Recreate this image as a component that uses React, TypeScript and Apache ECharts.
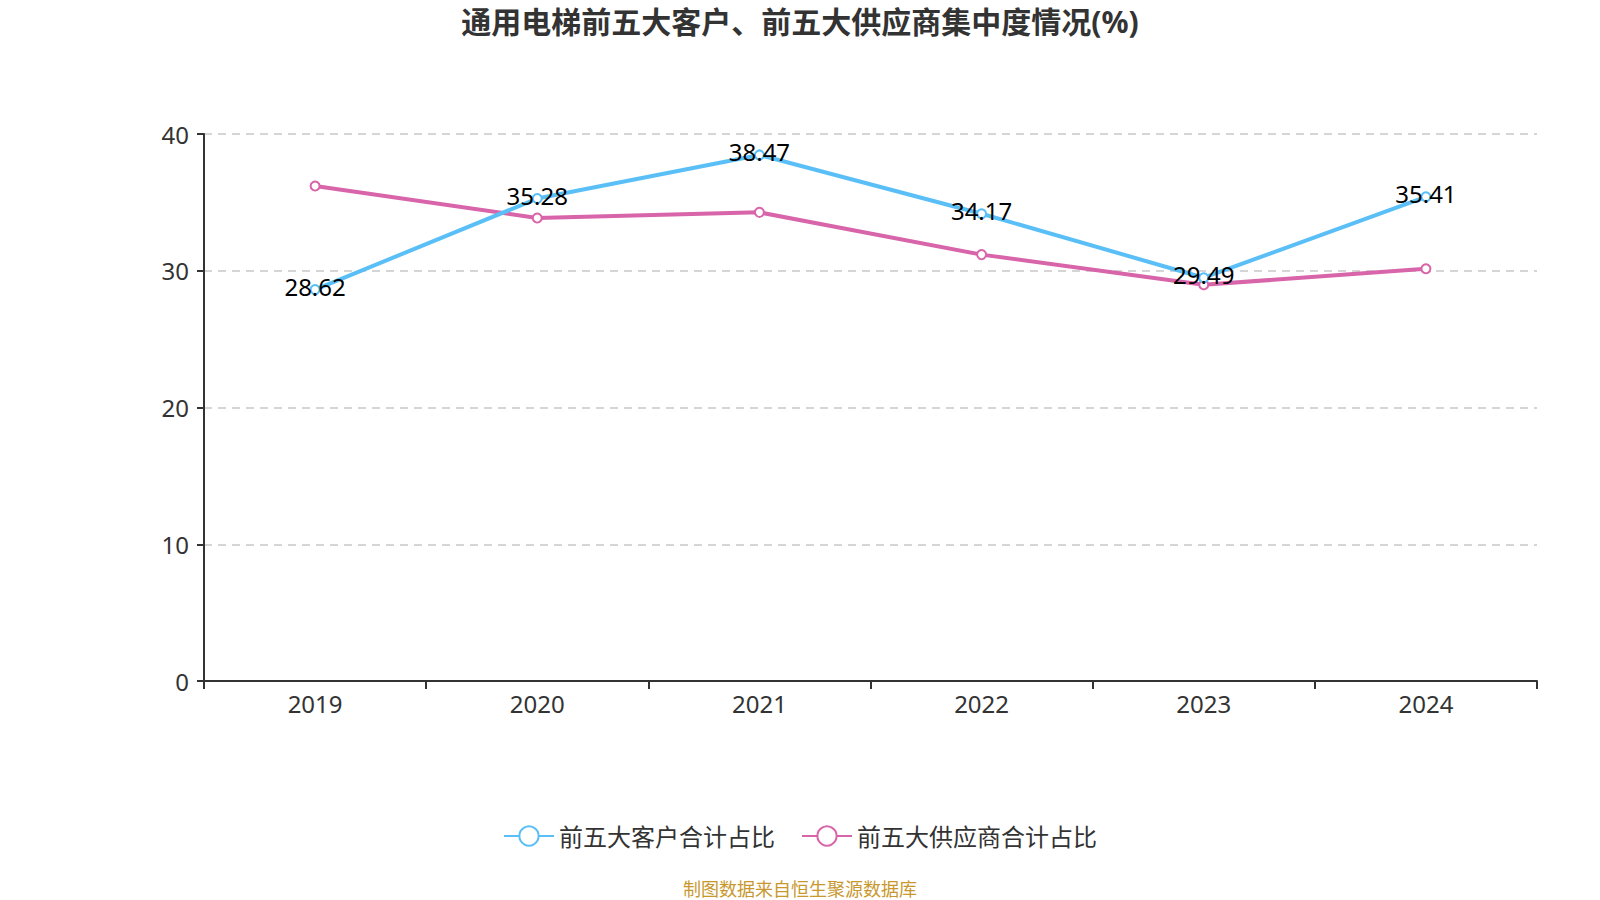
import React, { useEffect, useRef } from "react";
import * as echarts from "echarts";

const years = ["2019", "2020", "2021", "2022", "2023", "2024"];
const customerShare = [28.62, 35.28, 38.47, 34.17, 29.49, 35.41];
const supplierShare = [36.2, 33.86, 34.27, 31.18, 28.97, 30.15];
const seriesNames = ["前五大客户合计占比", "前五大供应商合计占比"];
const yTicks = { min: 0, max: 40, interval: 10 };

const FONT = "'Noto Sans', 'Noto Sans CJK SC', sans-serif";

export default function App() {
  const ref = useRef<HTMLDivElement>(null);
  useEffect(() => {
    document.body.style.margin = "0";
    if (!ref.current) return;
    const chart = echarts.init(ref.current, undefined, { renderer: "svg" });
    chart.setOption({
      animation: false,
      textStyle: { fontFamily: FONT },
      title: {
        text: "通用电梯前五大客户、前五大供应商集中度情况(%)",
        left: "center",
        top: 1,
        textStyle: { fontSize: 30, fontWeight: "bold", color: "#333", fontFamily: FONT },
      },
      grid: { left: 204, right: 63, top: 134, bottom: 219 },
      legend: {
        data: seriesNames,
        left: "center",
        top: 819,
        itemWidth: 50,
        itemHeight: 24,
        itemGap: 26,
        textStyle: { fontSize: 24, color: "#333", fontFamily: FONT },
      },
      graphic: [
        {
          type: "text",
          left: "center",
          top: 880,
          style: {
            text: "制图数据来自恒生聚源数据库",
            fontSize: 18,
            fill: "#c8982f",
            fontFamily: FONT,
          },
        },
      ],
      xAxis: {
        type: "category",
        data: years,
        axisLine: { lineStyle: { color: "#333", width: 2 } },
        axisTick: { show: true, lineStyle: { color: "#333", width: 2 }, length: 8 },
        axisLabel: { fontSize: 24, color: "#333", margin: 10, fontFamily: FONT },
      },
      yAxis: {
        type: "value",
        min: yTicks.min,
        max: yTicks.max,
        interval: yTicks.interval,
        axisLine: { show: true, lineStyle: { color: "#333", width: 2 } },
        axisTick: { show: true, lineStyle: { color: "#333", width: 2 }, length: 7 },
        axisLabel: { fontSize: 24, color: "#333", margin: 15, fontFamily: FONT },
        splitLine: { lineStyle: { type: [8, 6], color: "#c8c8c8", width: 1.5 } },
      },
      series: [
        {
          name: seriesNames[0],
          type: "line",
          data: customerShare,
          symbol: "emptyCircle",
          symbolSize: 9,
          itemStyle: { color: "#5bbff7", borderWidth: 2 },
          lineStyle: { color: "#5bbff7", width: 4 },
          label: {
            show: true,
            position: "inside",
            offset: [0, -3],
            fontSize: 24,
            color: "#000",
            fontFamily: FONT,
          },
          z: 3,
        },
        {
          name: seriesNames[1],
          type: "line",
          data: supplierShare,
          symbol: "emptyCircle",
          symbolSize: 9,
          itemStyle: { color: "#d864a9", borderWidth: 2 },
          lineStyle: { color: "#d864a9", width: 4 },
          z: 2,
        },
      ],
    });
    return () => chart.dispose();
  }, []);
  return <div ref={ref} style={{ width: 1600, height: 900 }} />;
}
